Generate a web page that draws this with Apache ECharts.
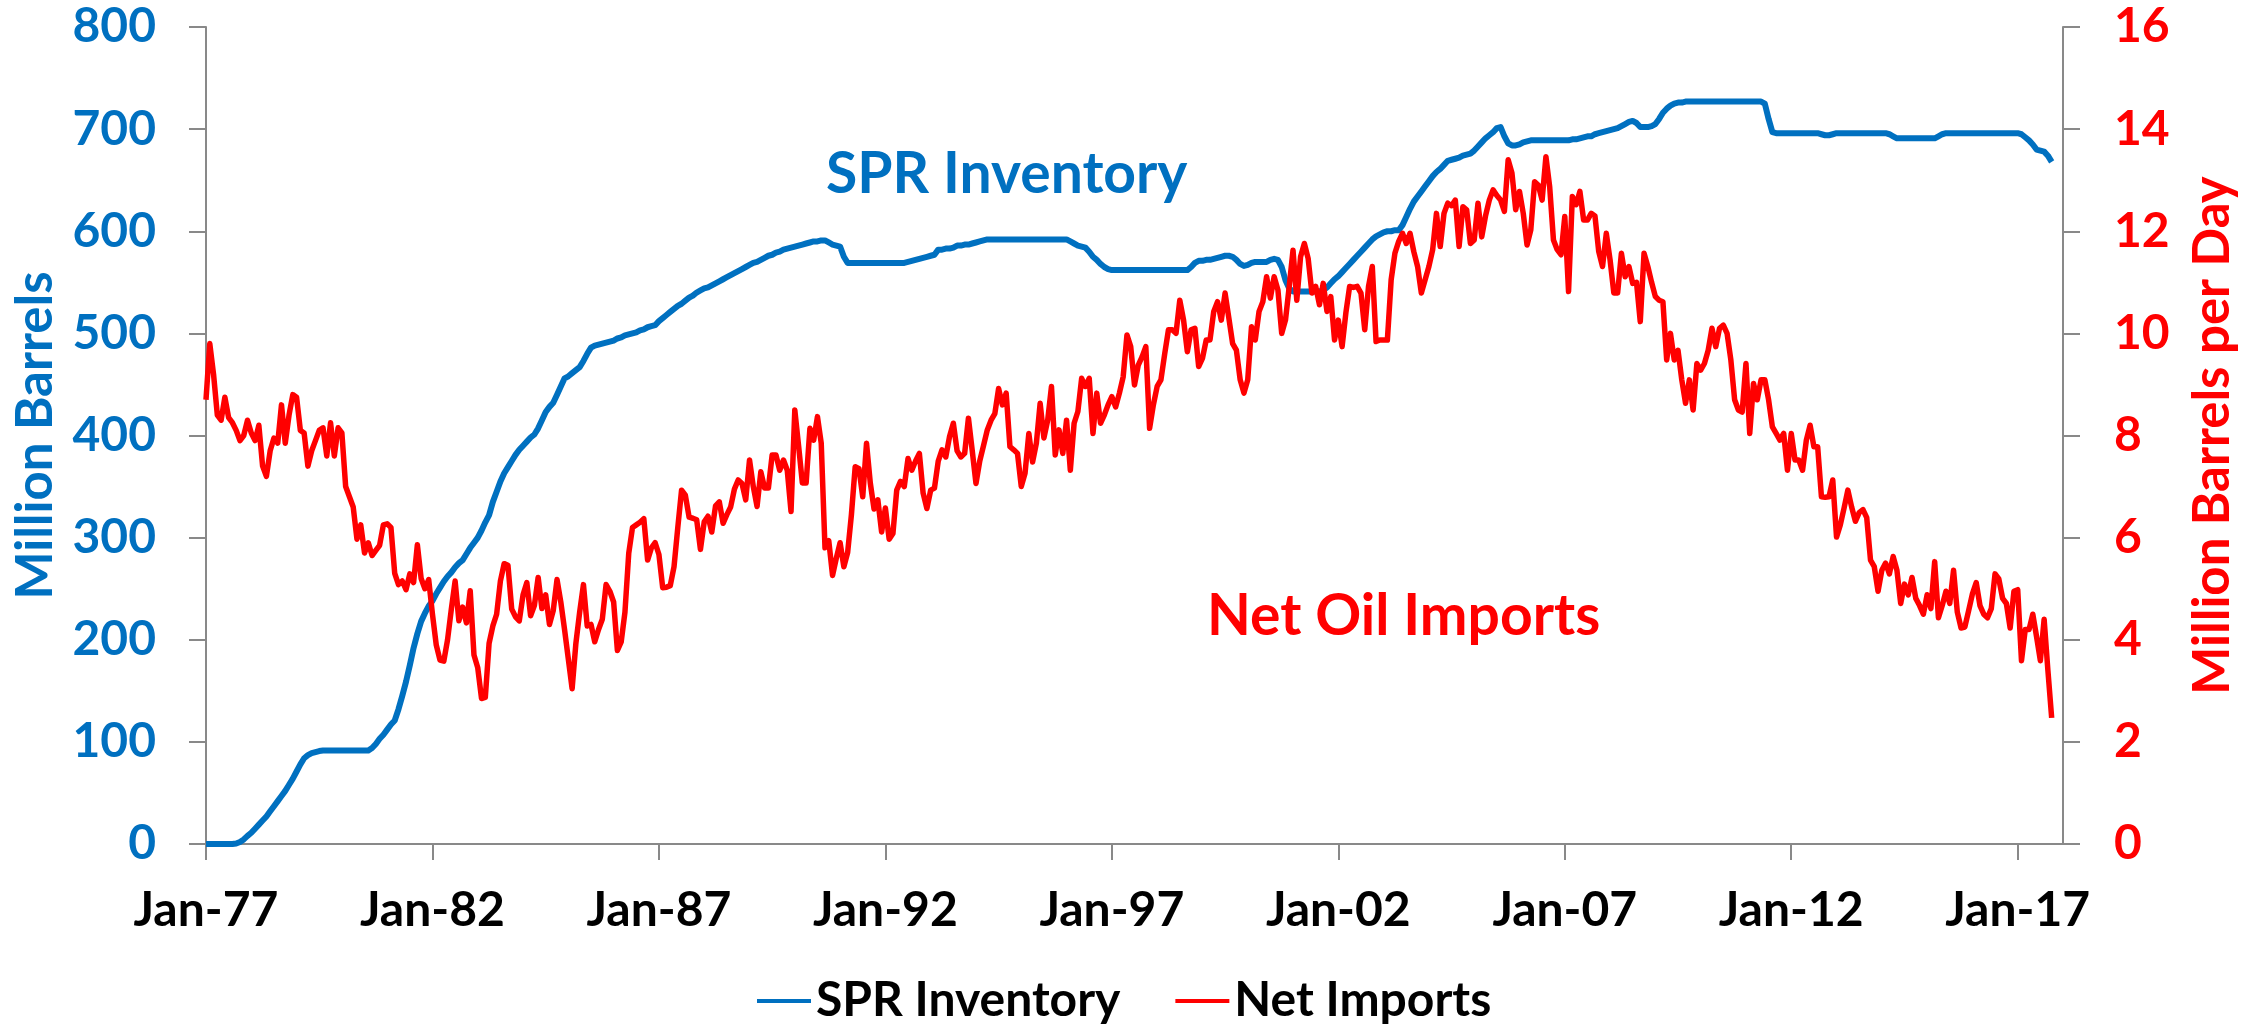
<!DOCTYPE html>
<html>
<head>
<meta charset="utf-8">
<title>SPR Inventory and Net Oil Imports</title>
<script src="https://cdn.jsdelivr.net/npm/echarts/dist/echarts.min.js"></script>
<style>
    body { margin: 0; background: #fff; }
    #chart { width: 2262px; height: 1025px; }
</style>
</head>
<body>
<div id="chart"></div>
<script>
var FONT = 'Lato, "Open Sans", sans-serif';
var BLUE = '#0070C0';
var RED = '#FF0000';
var AXIS_GREY = '#898989';

var monthNames = ['Jan', 'Feb', 'Mar', 'Apr', 'May', 'Jun', 'Jul', 'Aug', 'Sep', 'Oct', 'Nov', 'Dec'];
var firstYear = 1977;
var lastYear = 2018; // axis runs to Jan-18
var labelEvery = 60; // one label every 5 years

// SPR inventory, million barrels, monthly from Jan-77
var sprInventory = [
    0, 0, 0, 0, 0, 0, 0, 0, 0.5, 2, 4.5, 8,                      // 1977
    11, 15, 19, 23, 27, 32, 37, 42, 47, 52, 58, 64,              // 1978
    71, 78, 84, 87, 89, 90, 91, 91.5, 91.5, 91.5, 91.5, 91.5,    // 1979
    91.5, 91.5, 91.5, 91.5, 91.5, 91.5, 91.5, 91.5, 94, 98, 103, 107, // 1980
    112, 117, 121, 132, 145, 159, 175, 192, 206, 218, 226, 233,  // 1981
    238, 245, 251, 257, 262, 266, 271, 275, 278, 284, 290, 295,  // 1982
    300, 307, 315, 322, 335, 345, 355, 363, 369, 375, 381, 386,  // 1983
    390, 394, 398, 401, 407, 415, 423, 428, 432, 440, 448, 456,  // 1984
    458, 461, 464, 467, 473, 480, 486, 488, 489, 490, 491, 492,  // 1985
    493, 495, 496, 498, 499, 500, 501, 503, 504, 506, 507, 508,  // 1986
    512, 515, 518, 521, 524, 527, 529, 532, 535, 537, 540, 542,  // 1987
    544, 545, 547, 549, 551, 553, 555, 557, 559, 561, 563, 565,  // 1988
    567, 569, 570, 572, 574, 576, 577, 579, 580, 582, 583, 584,  // 1989
    585, 586, 587, 588, 589, 590, 590, 591, 591, 589, 587, 586,  // 1990
    585, 575, 569, 569, 569, 569, 569, 569, 569, 569, 569, 569,  // 1991
    569, 569, 569, 569, 569, 569, 570, 571, 572, 573, 574, 575,  // 1992
    576, 577, 582, 582, 583, 583, 584, 586, 586, 587, 587, 588,  // 1993
    589, 590, 591, 592, 592, 592, 592, 592, 592, 592, 592, 592,  // 1994
    592, 592, 592, 592, 592, 592, 592, 592, 592, 592, 592, 592,  // 1995
    592, 590, 588, 586, 585, 584, 580, 575, 572, 568, 565, 563,  // 1996
    562, 562, 562, 562, 562, 562, 562, 562, 562, 562, 562, 562,  // 1997
    562, 562, 562, 562, 562, 562, 562, 562, 562, 565, 569, 571,  // 1998
    571, 572, 572, 573, 574, 575, 576, 576, 575, 572, 568, 566,  // 1999
    567, 569, 570, 570, 570, 570, 572, 573, 572, 565, 552, 544,  // 2000
    541, 541, 541, 541, 541, 541, 541, 541, 542, 545, 549, 553,  // 2001
    556, 560, 564, 568, 572, 576, 580, 584, 588, 592, 595, 597,  // 2002
    599, 600, 600, 601, 601, 606, 614, 622, 629, 634, 639, 644,  // 2003
    649, 654, 658, 661, 665, 669, 670, 671, 672, 674, 675, 676,  // 2004
    679, 683, 687, 691, 694, 697, 701, 702, 693, 686, 684, 684,  // 2005
    685, 687, 688, 689, 689, 689, 689, 689, 689, 689, 689, 689,  // 2006
    689, 689, 690, 690, 691, 692, 693, 693, 695, 696, 697, 698,  // 2007
    699, 700, 701, 703, 705, 707, 708, 706, 702, 702, 702, 703,  // 2008
    705, 710, 716, 720, 723, 725, 726, 726, 727, 727, 727, 727,  // 2009
    727, 727, 727, 727, 727, 727, 727, 727, 727, 727, 727, 727,  // 2010
    727, 727, 727, 727, 727, 725, 710, 697, 696, 696, 696, 696,  // 2011
    696, 696, 696, 696, 696, 696, 696, 696, 695, 694, 694, 695,  // 2012
    696, 696, 696, 696, 696, 696, 696, 696, 696, 696, 696, 696,  // 2013
    696, 696, 695, 693, 691, 691, 691, 691, 691, 691, 691, 691,  // 2014
    691, 691, 691, 693, 695, 696, 696, 696, 696, 696, 696, 696,  // 2015
    696, 696, 696, 696, 696, 696, 696, 696, 696, 696, 696, 696,  // 2016
    696, 695, 692, 689, 685, 680, 679, 678, 674, 668             // 2017
];

// net oil imports, million barrels per day, monthly from Jan-77
var netImports = [
    8.7, 9.8, 9.2, 8.4, 8.3, 8.75, 8.35, 8.25, 8.1, 7.9, 8.0, 8.3,           // 1977
    8.05, 7.9, 8.2, 7.4, 7.2, 7.7, 7.95, 7.85, 8.6, 7.85, 8.4, 8.8,          // 1978
    8.75, 8.1, 8.05, 7.4, 7.7, 7.9, 8.1, 8.15, 7.6, 8.25, 7.6, 8.15,         // 1979
    8.05, 7.0, 6.8, 6.6, 5.97, 6.25, 5.7, 5.9, 5.65, 5.75, 5.85, 6.25,       // 1980
    6.27, 6.2, 5.3, 5.08, 5.15, 4.98, 5.29, 5.12, 5.86, 5.2, 5.0, 5.18,      // 1981
    4.5, 3.9, 3.6, 3.58, 4.0, 4.6, 5.15, 4.37, 4.64, 4.33, 4.96, 3.7,        // 1982
    3.45, 2.85, 2.87, 3.93, 4.27, 4.5, 5.15, 5.49, 5.46, 4.6, 4.45, 4.37,    // 1983
    4.88, 5.12, 4.47, 4.67, 5.22, 4.61, 4.88, 4.3, 4.57, 5.18, 4.74, 4.2,    // 1984
    3.62, 3.04, 3.93, 4.54, 5.08, 4.27, 4.3, 3.96, 4.2, 4.4, 5.08, 4.95,     // 1985
    4.74, 3.79, 3.96, 4.54, 5.69, 6.2, 6.25, 6.3, 6.37, 5.56, 5.8, 5.9,      // 1986
    5.67, 5.02, 5.03, 5.06, 5.43, 6.2, 6.93, 6.83, 6.4, 6.38, 6.35, 5.77,    // 1987
    6.31, 6.42, 6.11, 6.62, 6.7, 6.28, 6.45, 6.6, 6.95, 7.13, 7.06, 6.74,    // 1988
    7.52, 7.0, 6.61, 7.29, 6.97, 6.97, 7.62, 7.62, 7.32, 7.52, 7.32, 6.51,   // 1989
    8.5, 7.8, 7.07, 7.07, 8.14, 7.91, 8.37, 7.85, 5.8, 5.94, 5.26, 5.6,      // 1990
    5.9, 5.43, 5.71, 6.45, 7.39, 7.35, 6.8, 7.85, 7.07, 6.56, 6.74, 6.11,    // 1991
    6.58, 5.97, 6.08, 6.93, 7.1, 7.0, 7.55, 7.32, 7.5, 7.65, 6.87, 6.57,     // 1992
    6.93, 6.97, 7.5, 7.72, 7.58, 7.98, 8.24, 7.7, 7.58, 7.65, 8.34, 7.71,    // 1993
    7.06, 7.5, 7.8, 8.11, 8.3, 8.43, 8.92, 8.6, 8.83, 7.78, 7.72, 7.65,      // 1994
    7.0, 7.26, 8.04, 7.48, 7.85, 8.63, 7.95, 8.3, 8.96, 7.62, 8.11, 7.65,    // 1995
    8.3, 7.32, 8.24, 8.47, 9.12, 8.96, 9.12, 8.04, 8.83, 8.24, 8.4, 8.6,     // 1996
    8.76, 8.56, 8.83, 9.15, 9.97, 9.74, 8.99, 9.38, 9.54, 9.74, 8.14, 8.6,   // 1997
    8.96, 9.09, 9.6, 10.07, 10.07, 10.0, 10.65, 10.26, 9.64, 10.07, 10.1, 9.35,   // 1998
    9.51, 9.87, 9.87, 10.43, 10.62, 10.26, 10.79, 10.3, 9.8, 9.67, 9.09, 8.83,    // 1999
    9.09, 10.13, 9.87, 10.43, 10.62, 11.11, 10.69, 11.11, 10.85, 10.0, 10.26, 10.92, // 2000
    11.63, 10.65, 11.5, 11.76, 11.47, 10.79, 10.92, 10.56, 10.98, 10.43, 10.72, 9.87, // 2001
    10.26, 9.74, 10.4, 10.92, 10.9, 10.92, 10.79, 10.07, 10.92, 11.31, 9.84, 9.87,   // 2002
    9.87, 9.87, 11.05, 11.57, 11.8, 11.96, 11.76, 11.96, 11.6, 11.31, 10.79, 11.05,  // 2003
    11.31, 11.64, 12.35, 11.7, 12.35, 12.55, 12.5, 12.61, 11.7, 12.48, 12.42, 11.76, // 2004
    11.83, 12.55, 11.89, 12.3, 12.61, 12.81, 12.7, 12.61, 12.39, 13.4, 13.14, 12.42, // 2005
    12.78, 12.35, 11.73, 12.03, 12.97, 12.9, 12.61, 13.46, 12.87, 11.83, 11.64, 11.54, // 2006
    12.29, 10.82, 12.68, 12.52, 12.78, 12.22, 12.22, 12.35, 12.3, 11.6, 11.31, 11.96, // 2007
    11.44, 10.79, 10.79, 11.57, 11.11, 11.31, 10.98, 11.0, 10.23, 11.57, 11.31, 11.0, // 2008
    10.72, 10.65, 10.62, 9.48, 10.0, 9.48, 9.67, 9.09, 8.63, 9.09, 8.5, 9.41,  // 2009
    9.28, 9.41, 9.67, 10.1, 9.74, 10.1, 10.16, 10.0, 9.48, 8.7, 8.5, 8.46,     // 2010
    9.41, 8.04, 9.02, 8.7, 9.09, 9.09, 8.7, 8.17, 8.04, 7.91, 8.04, 7.32,      // 2011
    8.04, 7.52, 7.52, 7.32, 7.91, 8.2, 7.78, 7.78, 6.8, 6.79, 6.8, 7.13,       // 2012
    6.01, 6.25, 6.58, 6.93, 6.6, 6.32, 6.49, 6.55, 6.39, 5.56, 5.43, 4.95,     // 2013
    5.36, 5.5, 5.29, 5.63, 5.36, 4.71, 5.09, 4.88, 5.22, 4.81, 4.67, 4.5,      // 2014
    4.88, 4.61, 5.53, 4.43, 4.67, 4.95, 4.71, 5.36, 4.54, 4.23, 4.25, 4.57,    // 2015
    4.9, 5.12, 4.67, 4.5, 4.43, 4.61, 5.29, 5.19, 4.81, 4.71, 4.23, 4.95,      // 2016
    4.98, 3.59, 4.2, 4.2, 4.5, 4.06, 3.59, 4.4, 3.4, 2.47                      // 2017
];

var leftTicks = { min: 0, max: 800, interval: 100 };
var rightTicks = { min: 0, max: 16, interval: 2 };

function buildMonths() {
    var months = [];
    for (var y = firstYear; y <= lastYear; y++) {
        for (var i = 0; i < 12; i++) {
            if (y == lastYear && i > 0) break;
            months.push(monthNames[i] + '-' + String(y).slice(2));
        }
    }
    return months;
}

function everyFive(index) {
    return index % labelEvery === 0;
}

window.onload = function () {
    var chart = echarts.init(document.getElementById('chart'));
    var months = buildMonths();

    var option = {
        animation: false,
        backgroundColor: '#fff',
        textStyle: { fontFamily: FONT },
        grid: { left: 206, right: 199, top: 27, bottom: 181, containLabel: false },
        legend: {
            left: 752,
            top: 972,
            itemWidth: 54,
            itemHeight: 20,
            itemGap: 55,
            icon: 'path://M0,8 L54,8 L54,12 L0,12 Z',
            textStyle: { color: '#000', fontSize: 48, fontWeight: 'bold', fontFamily: FONT },
            data: ['SPR Inventory', 'Net Imports']
        },
        xAxis: {
            type: 'category',
            data: months,
            boundaryGap: false,
            axisLine: { lineStyle: { color: AXIS_GREY, width: 2 } },
            axisTick: { show: true, interval: everyFive, length: 16, lineStyle: { color: AXIS_GREY, width: 2 } },
            axisLabel: {
                interval: everyFive,
                margin: 43,
                color: '#000',
                fontSize: 48,
                fontWeight: 'bold',
                fontFamily: FONT
            },
            splitLine: { show: false }
        },
        yAxis: [{
            type: 'value',
            min: leftTicks.min,
            max: leftTicks.max,
            interval: leftTicks.interval,
            name: 'Million Barrels',
            nameLocation: 'middle',
            nameRotate: 90,
            nameGap: 145,
            nameTextStyle: { color: BLUE, fontSize: 51, fontWeight: 'bold', fontFamily: FONT },
            axisLine: { show: true, lineStyle: { color: AXIS_GREY, width: 2 } },
            axisTick: { show: true, length: 17, lineStyle: { color: AXIS_GREY, width: 2 } },
            axisLabel: { margin: 50, color: BLUE, fontSize: 48, fontWeight: 'bold', fontFamily: FONT },
            splitLine: { show: false }
        }, {
            type: 'value',
            position: 'right',
            min: rightTicks.min,
            max: rightTicks.max,
            interval: rightTicks.interval,
            name: 'Million Barrels per Day',
            nameLocation: 'middle',
            nameRotate: 90,
            nameGap: 124,
            nameTextStyle: { color: RED, fontSize: 51, fontWeight: 'bold', fontFamily: FONT },
            axisLine: { show: true, lineStyle: { color: AXIS_GREY, width: 2 } },
            axisTick: { show: true, length: 17, lineStyle: { color: AXIS_GREY, width: 2 } },
            axisLabel: { margin: 51, color: RED, fontSize: 48, fontWeight: 'bold', fontFamily: FONT },
            splitLine: { show: false }
        }],
        graphic: [{
            type: 'text',
            left: 826,
            top: 146,
            style: { text: 'SPR Inventory', fill: BLUE, font: 'bold 57px ' + FONT }
        }, {
            type: 'text',
            left: 1207,
            top: 588,
            style: { text: 'Net Oil Imports', fill: RED, font: 'bold 57px ' + FONT }
        }],
        series: [{
            name: 'SPR Inventory',
            type: 'line',
            yAxisIndex: 0,
            data: sprInventory,
            symbol: 'none',
            itemStyle: { color: BLUE },
            lineStyle: { color: BLUE, width: 6, join: 'round' }
        }, {
            name: 'Net Imports',
            type: 'line',
            yAxisIndex: 1,
            data: netImports,
            symbol: 'none',
            itemStyle: { color: RED },
            lineStyle: { color: RED, width: 5.5, join: 'round' }
        }]
    };
    chart.setOption(option);
};
</script>
</body>
</html>
